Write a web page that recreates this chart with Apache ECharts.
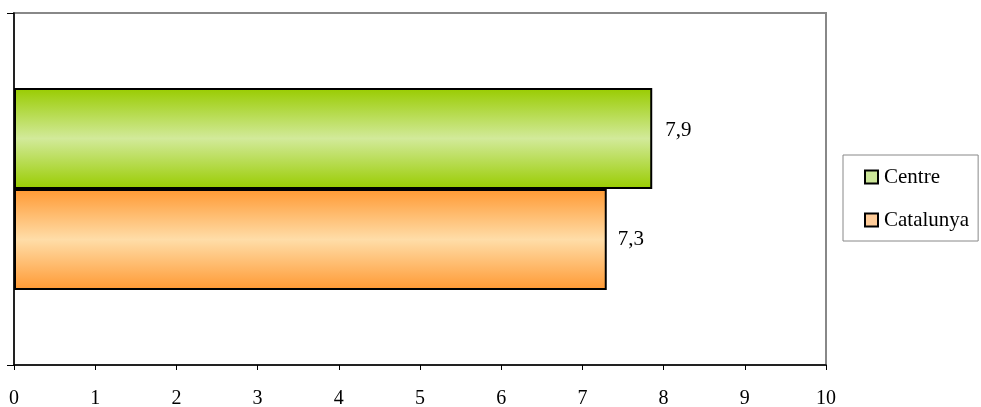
<!DOCTYPE html>
<html>
<head>
<meta charset="utf-8">
<script src="https://cdn.jsdelivr.net/npm/echarts@6/dist/echarts.min.js"></script>
<style>html,body{margin:0;padding:0;background:#fff}#c{width:981px;height:407px}</style>
</head>
<body>
<div id="c"></div>
<script>
const categories = [''];
const seriesNames = ['Centre', 'Catalunya'];
const centreValues = [7.86];
const catalunyaValues = [7.3];
const xTicks = [0, 1, 2, 3, 4, 5, 6, 7, 8, 9, 10];

const font = 'Liberation Serif';
function grad(edge, mid) {
  return new echarts.graphic.LinearGradient(0, 0, 0, 1, [
    {offset: 0, color: edge}, {offset: 0.5, color: mid}, {offset: 1, color: edge}
  ]);
}
const fmt = p => p.value.toFixed(1).replace('.', ',');
const chart = echarts.init(document.getElementById('c'), null, {renderer: 'canvas'});
chart.setOption({
  animation: false,
  backgroundColor: '#fff',
  grid: {left: 14, top: 13, right: 155, bottom: 42, show: true, borderColor: '#888', borderWidth: 2,
         backgroundColor: 'transparent', containLabel: false, outerBoundsMode: 'none'},
  xAxis: {
    type: 'value', min: xTicks[0], max: xTicks[xTicks.length - 1], interval: 1,
    axisLine: {show: true, lineStyle: {color: '#000', width: 1.5}},
    axisTick: {show: true, length: 5, lineStyle: {color: '#000'}},
    axisLabel: {color: '#000', fontFamily: font, fontSize: 20, margin: 24},
    splitLine: {show: false}
  },
  yAxis: {
    type: 'category', data: categories, inverse: true,
    axisLine: {show: true, lineStyle: {color: '#000', width: 1.5}},
    axisTick: {show: true, length: 7, lineStyle: {color: '#000'}},
    axisLabel: {show: false}
  },
  legend: {
    orient: 'vertical', left: 843, top: 155,
    borderColor: '#888', borderWidth: 1, padding: [11, 9, 10, 21], itemGap: 21,
    icon: 'rect', itemWidth: 13, itemHeight: 13,
    textStyle: {fontFamily: font, fontSize: 21, lineHeight: 22, color: '#000', padding: [0, 0, 0, 1]},
    data: [
      {name: seriesNames[0], itemStyle: {color: '#CCE699', borderColor: '#000', borderWidth: 2}},
      {name: seriesNames[1], itemStyle: {color: '#FFCC99', borderColor: '#000', borderWidth: 2}}
    ]
  },
  series: [
    {name: seriesNames[0], type: 'bar', data: centreValues, barWidth: 101, barGap: '0%',
     itemStyle: {color: grad('#99CC00', '#D2EA9A'), borderColor: '#000', borderWidth: 2},
     label: {show: true, position: 'right', distance: 13, offset: [0, -8], formatter: fmt, fontFamily: font, fontSize: 21, color: '#000'}},
    {name: seriesNames[1], type: 'bar', data: catalunyaValues, barWidth: 101, barGap: '0%',
     itemStyle: {color: grad('#FF9933', '#FFDDA8'), borderColor: '#000', borderWidth: 2},
     label: {show: true, position: 'right', distance: 11, formatter: fmt, fontFamily: font, fontSize: 21, color: '#000'}}
  ]
});
</script>
</body>
</html>
